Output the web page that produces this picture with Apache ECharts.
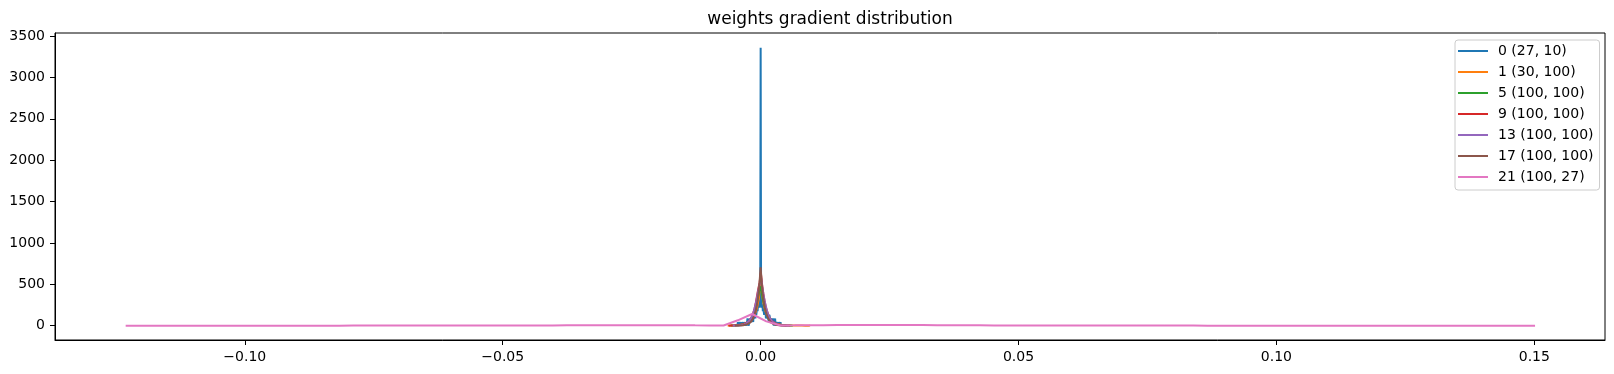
<!DOCTYPE html>
<html><head><meta charset="utf-8">
<script src="https://cdn.jsdelivr.net/npm/echarts@6/dist/echarts.min.js"></script>
<style>html,body{margin:0;padding:0;background:#fff}#c{width:1614px;height:374px}</style>
</head><body><div id="c"></div>
<script>
// ---- data ----
const seriesNames = ['0 (27, 10)', '1 (30, 100)', '5 (100, 100)', '9 (100, 100)', '13 (100, 100)', '17 (100, 100)', '21 (100, 27)'];
const seriesColors = ['#1f77b4', '#ff7f0e', '#2ca02c', '#d62728', '#9467bd', '#8c564b', '#e377c2'];
// first bin edge and bin width of each histogram
const binStarts = [-0.0045, -0.0064, -0.0058, -0.0062, -0.0054, -0.0050, -0.1231];
const binSteps  = [0.000085, 0.00032, 0.00024, 0.00024, 0.00022, 0.0002, 0.00276];

const density0 = [
  0,44,0,0,44,0,0,44,0,44,
  0,44,44,0,44,0,44,44,0,44,
  44,0,44,87,44,44,0,87,44,44,
  87,44,87,44,87,87,44,131,87,87,
  131,87,174,131,131,218,174,262,218,305,
  262,218,305,3357,
  262,305,218,262,174,218,
  174,131,218,131,174,87,131,131,87,131,
  87,87,44,131,87,44,87,44,87,44,
  44,87,44,0,44,44,87,0,44,44,
  0,44,44,0,44,0,0,44,0,44
];
const density1 = [
  1,2,2,3,4,5,7,9,12,15,
  20,27,36,48,64,88,120,165,230,340,
  560,350,240,170,125,92,68,50,38,28,
  21,16,12,9,7,6,5,4,3,3,
  2,2,2,1,1,1,1,0,1,0,1
];
const density5 = [
  1,1,2,2,3,4,5,6,8,10,
  13,17,22,29,38,50,66,88,117,155,
  205,270,340,420,480,400,320,250,195,150,
  115,88,67,51,39,30,23,17,13,10,
  8,6,5,4,3,2,2,1,1,1,0
];
const density9 = [
  0,1,1,2,2,3,4,5,6,8,
  10,13,17,22,29,38,50,66,88,118,
  158,210,280,365,450,520,640,500,390,300,
  230,175,132,100,75,56,42,31,23,17,
  13,10,7,5,4,3,2,2,1,1,1
];
const density13 = [
  1,1,2,2,3,4,5,7,9,12,
  16,21,28,37,49,65,86,114,150,195,
  250,315,390,460,520,570,470,380,305,240,
  185,142,108,82,62,47,35,26,19,14,
  10,8,6,4,3,3,2,2,1,1,0
];
const density17 = [
  1,2,1,3,2,4,3,6,5,9,
  11,13,18,22,30,38,52,70,95,128,
  168,225,300,395,530,705,520,390,295,220,
  170,126,97,72,55,40,31,23,17,13,
  10,7,6,4,3,3,2,1,2,1,1
];
const density21 = [
  0.1,0,0.1,0,0.2,0.1,0.2,0.1,0.3,0.2,
  0.4,0.3,0.5,0.4,0.6,0.5,0.8,0.7,1.0,0.9,
  1.2,1.1,1.5,1.4,1.8,2.0,2.2,2.5,2.8,3.1,
  3.5,3.8,4.2,4.5,4.9,
  5.3,5.6,5.8,5.5,5.0,4.2,3.5,
  2.5,65,141,52,3,
  4.0,5.5,6.5,7.5,8.2,8.5,8.4,8.0,7.4,6.8,6.0,5.3,4.6,4.0,
  3.5,3.1,2.8,2.5,2.2,2.0,1.8,1.6,1.4,1.3,
  1.1,1.0,0.9,0.8,0.7,0.6,0.6,0.5,0.5,0.4,
  0.4,0.3,0.3,0.3,0.2,0.2,0.2,0.2,0.1,0.1,
  0.1,0.1,0.1,0.1,0.1,0,0.1,0,0.1
];
const densities = [density0, density1, density5, density9, density13, density17, density21];

const xTicks = [-0.10, -0.05, 0.00, 0.05, 0.10, 0.15];
const yTicks = [0, 500, 1000, 1500, 2000, 2500, 3000, 3500];
const xRange = [-0.1368, 0.1637];
const yRange = [-173, 3536];
const titleText = 'weights gradient distribution';

// ---- chart ----
const FONT = 'DejaVu Sans';
const chart = echarts.init(document.getElementById('c'), null, {renderer: 'canvas'});
const series = densities.map((ys, k) => ({
  name: seriesNames[k],
  type: 'line',
  data: ys.map((y, i) => [binStarts[k] + i * binSteps[k], y]),
  showSymbol: false,
  symbol: 'none',
  lineStyle: {width: 2, color: seriesColors[k]},
  itemStyle: {color: seriesColors[k]},
  emphasis: {disabled: true},
  animation: false
}));
const fmtX = v => {
  const s = Math.abs(v).toFixed(2);
  return v < -1e-9 ? '\u2212' + s : s;
};
chart.setOption({
  animation: false,
  backgroundColor: '#fff',
  title: {
    text: titleText, left: 830, top: 11, textAlign: 'center', padding: 0,
    textStyle: {fontFamily: FONT, fontSize: 17, fontWeight: 'normal', color: '#000'}
  },
  grid: {left: 55, right: 9, top: 33, bottom: 34, show: true, borderColor: '#000', borderWidth: 1, backgroundColor: 'transparent'},
  legend: {
    orient: 'vertical', left: 1455, top: 40,
    padding: [4, 6, 6, 3],
    itemWidth: 30, itemHeight: 2, itemGap: 7,
    icon: 'rect',
    borderColor: '#cccccc', borderWidth: 1, borderRadius: 3,
    backgroundColor: 'rgba(255,255,255,0.8)',
    textStyle: {fontFamily: FONT, fontSize: 14, color: '#000', lineHeight: 14, padding: [0, 0, 0, 5]},
    data: seriesNames
  },
  xAxis: {
    type: 'value', min: xRange[0], max: xRange[1],
    axisLine: {show: true, onZero: false, lineStyle: {color: '#000', width: 1}},
    axisTick: {show: true, length: 5, inside: false, customValues: xTicks, lineStyle: {color: '#000'}},
    axisLabel: {customValues: xTicks, formatter: fmtX, fontFamily: FONT, fontSize: 14, color: '#000', margin: 10},
    splitLine: {show: false}
  },
  yAxis: {
    type: 'value', min: yRange[0], max: yRange[1],
    axisLine: {show: true, onZero: false, lineStyle: {color: '#000', width: 1}},
    axisTick: {show: true, length: 5, inside: false, customValues: yTicks, lineStyle: {color: '#000'}},
    axisLabel: {customValues: yTicks, formatter: v => String(v), fontFamily: FONT, fontSize: 14, color: '#000', margin: 10},
    splitLine: {show: false}
  },
  series: series
});
</script>
</body></html>
